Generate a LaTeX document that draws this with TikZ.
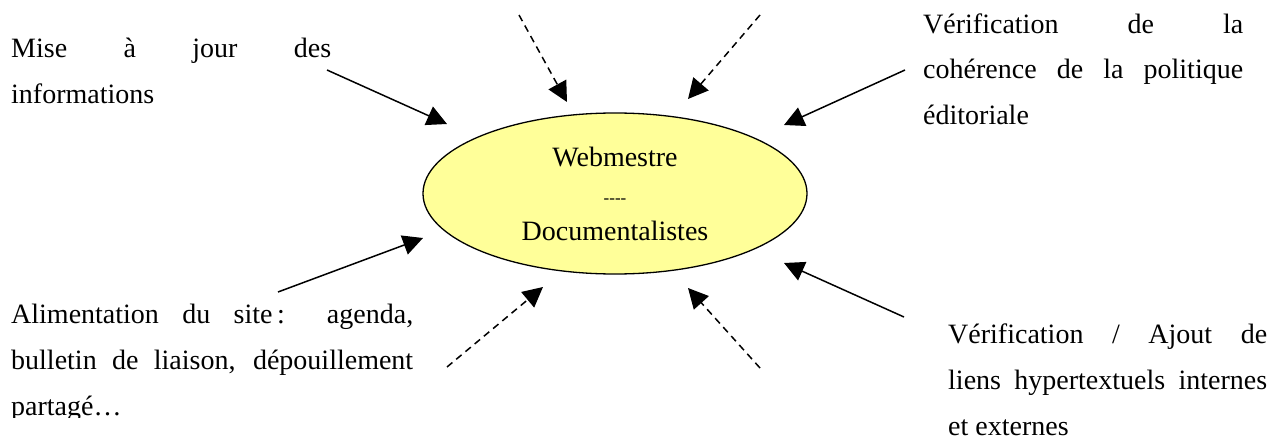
\documentclass[tikz,border=0pt]{standalone}
\usepackage{fontspec}
\setmainfont{Liberation Serif}
\usetikzlibrary{arrows.meta,shapes.geometric}
\definecolor{ellfill}{HTML}{FFFF99}
\begin{document}
\begin{tikzpicture}[x=1pt,y=-1pt,
  conn/.style={line width=1.5pt,-{Triangle[length=20pt,width=20pt]}},
  dconn/.style={conn,dash pattern=on 7pt off 5pt},
  txt/.style={anchor=base west,inner sep=0pt,align=justify,font=\fontsize{28}{46}\selectfont},
  hub/.style={ellipse,draw,line width=1.3pt,fill=ellfill,minimum width=384pt,minimum height=161pt,inner sep=0pt,align=center,font=\fontsize{28}{37}\selectfont}]
\useasboundingbox (0,0) rectangle (1286,439);

% central ellipse
\node[hub] (hub) at (615,193.5) {Webmestre\\{\fontsize{17}{37}\selectfont -\kern0pt-\kern0pt-\kern0pt-}\\Documentalistes};

% text blocks
\node[txt,text width=320pt] (tl) at (11,57) {Mise à jour des\linebreak informations};
\node[txt,text width=320pt] (tr) at (923,33) {Vérification de la\linebreak cohérence de la politique\linebreak éditoriale};
\node[txt,text width=319pt] (br) at (948,343) {Vérification / Ajout de\linebreak liens hypertextuels internes\linebreak et externes};
\begin{scope}
  \clip (0,250) rectangle (450,417);
  \node[txt,text width=402pt] (bl) at (11,323) {Alimentation du site\,: agenda,\linebreak bulletin de liaison, dépouillement\linebreak partagé…};
\end{scope}

% connector end points
\coordinate (s1) at (327,70);  \coordinate (e1) at (447,124);
\coordinate (s2) at (278,292); \coordinate (e2) at (423,238);
\coordinate (s3) at (905,70);  \coordinate (e3) at (784,125);
\coordinate (s4) at (904,317); \coordinate (e4) at (784,263);
\coordinate (s5) at (519,15);  \coordinate (e5) at (567,102);
\coordinate (s6) at (760,15);  \coordinate (e6) at (688,99);
\coordinate (s7) at (447,367); \coordinate (e7) at (543,287);
\coordinate (s8) at (760,368); \coordinate (e8) at (688,288);

% solid arrows
\draw[conn] (s1) -- (e1);
\draw[conn] (s2) -- (e2);
\draw[conn] (s3) -- (e3);
\draw[conn] (s4) -- (e4);
% dashed arrows
\draw[dconn] (s5) -- (e5);
\draw[dconn] (s6) -- (e6);
\draw[dconn] (s7) -- (e7);
\draw[dconn] (s8) -- (e8);
\end{tikzpicture}
\end{document}
